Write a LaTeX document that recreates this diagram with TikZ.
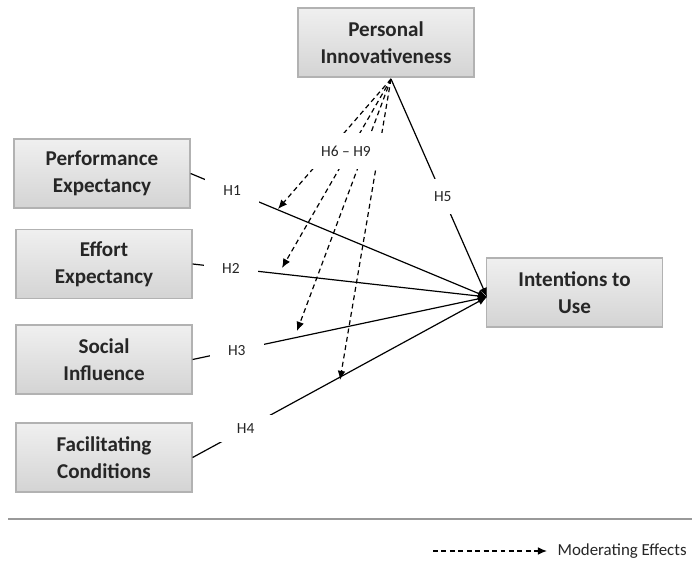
\documentclass[tikz,border=0pt]{standalone}
\usepackage{fontspec}
\setmainfont{Carlito}
\usepackage{tikz}
\usetikzlibrary{arrows,arrows.meta}
\usetikzlibrary{positioning}
\usetikzlibrary{calc}
\tikzstyle{construct}=[draw=gray!60,top color=gray!12,bottom color=gray!34,minimum width=4.4cm,minimum height=1.725cm,align=center,text=black!85,font=\bfseries\fontsize{15}{19}\selectfont]
\tikzstyle{hyp}=[fill=white,inner xsep=13pt,inner ysep=6pt,text=black!85,font=\fontsize{11}{13}\selectfont]

\begin{document}
\begin{tikzpicture}[x=0.025cm,y=-0.025cm,line width=0.85pt,>={Latex[length=6.5pt,width=5.5pt]}]
\tikzstyle{moderate}=[dashed,dash pattern=on 3.5pt off 2.5pt,->]
\useasboundingbox (0,0) rectangle (692,563);
    \node [construct] (pi) at (386,42.5) {Personal\\Innovativeness};
    \node [construct] (pe) at (102,173.5) {Performance\\Expectancy};
    \node [construct] (ee) at (104,264) {Effort\\Expectancy};
    \node [construct] (si) at (104,359.5) {Social\\Influence};
    \node [construct] (fc) at (104,457.5) {Facilitating\\Conditions};
    \node [construct] (iu) at (574.5,292.5) {Intentions to\\Use};
\coordinate (tgt) at (487,297);
\coordinate (src) at (391,79);
%\coordinate (tgt) at (iu.west);

\draw[->] (pe.east) -- node[hyp,pos=.14] (h1) {H1} (tgt);
\draw[->] (ee.east) -- node[hyp,pos=.13] (h2) {H2} (tgt);
\draw[->] (si.east) -- node[hyp,pos=.15] (h3) {H3} (tgt);
\draw[->] (fc.east) -- node[hyp,pos=.18] (h4) {H4} (tgt);
\draw[->] (src) -- node[hyp,pos=.54,inner ysep=9pt] (h5) {H5} (tgt);

% moderating effects
\coordinate (m1) at (278,209);
\coordinate (m2) at (282,268);
\coordinate (m3) at (297,331);
\coordinate (m4) at (340,380);
\foreach \m in {m1,m2,m3,m4}
  \draw[moderate] (src) -- (\m);
\node [fill=white,minimum width=2.1cm,minimum height=0.875cm,text=black!85,font=\fontsize{11}{13}\selectfont] (h69) at (346,151) {H6 -- H9};

\coordinate (ruleL) at (8,519);
\coordinate (ruleR) at (692,519);
\draw[gray!80,line width=1.3pt] (ruleL) -- (ruleR);

\node [anchor=west,inner sep=0pt,text=black!85,font=\fontsize{12}{14}\selectfont] (legend) at (557,551) {Moderating Effects};
\coordinate (legst) at (433,551);
\draw[moderate] (legst) -- ([xshift=-0.25cm]legend.west);
\end{tikzpicture}
\end{document}
